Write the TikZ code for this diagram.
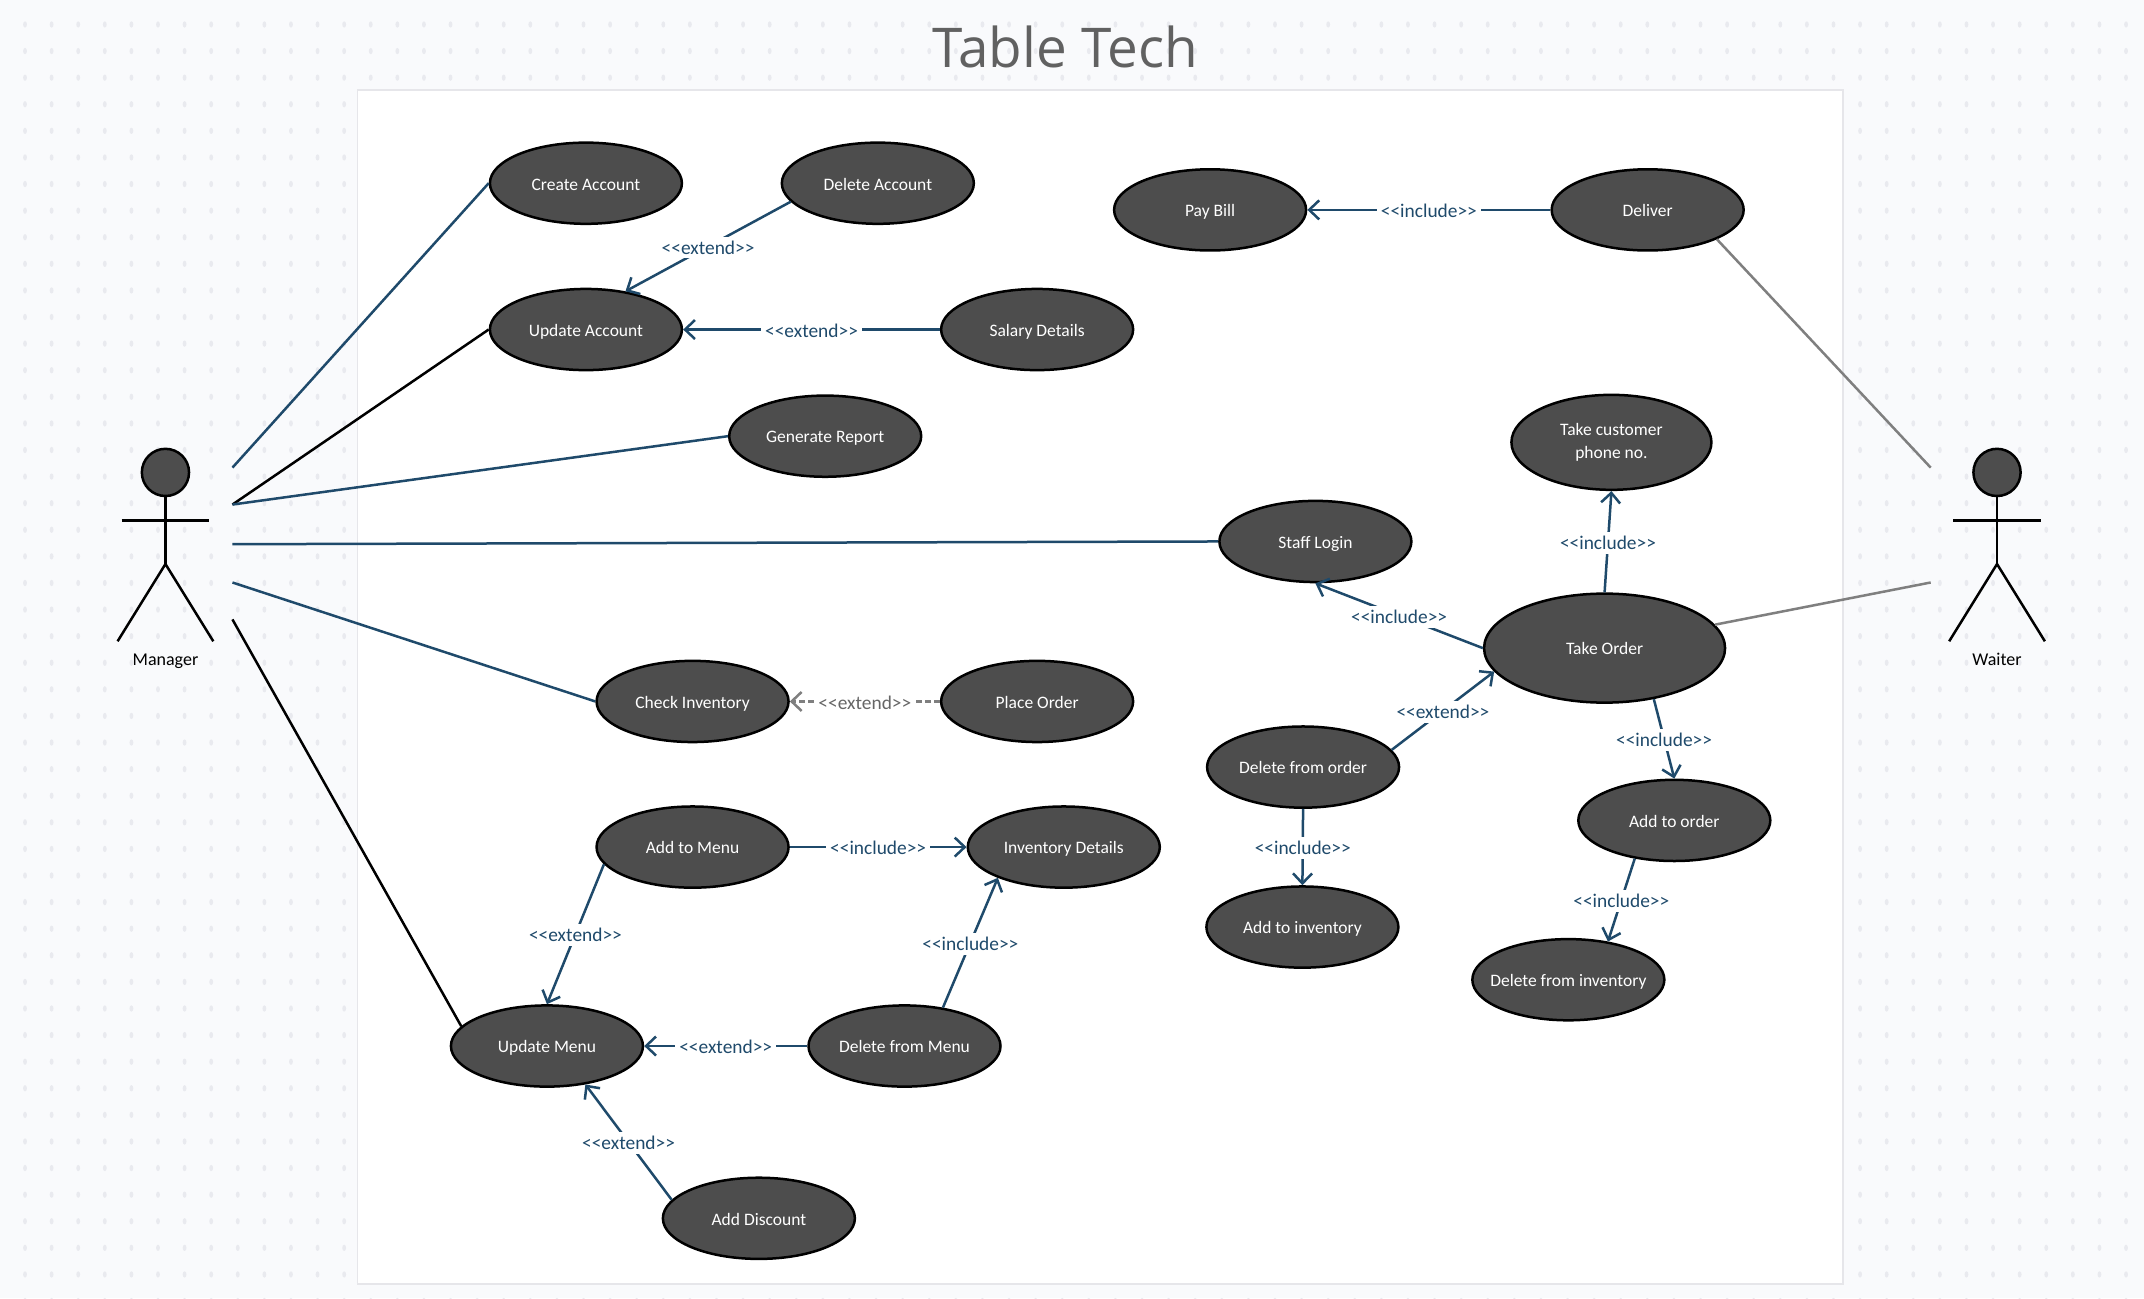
\documentclass[tikz,border=0pt]{standalone}
\usepackage{fontspec}
\setmainfont{Carlito}
\newfontfamily\titlefont{Open Sans}
\usetikzlibrary{arrows.meta,shapes.geometric}
\definecolor{pagebg}{HTML}{F9FAFC}
\definecolor{dotgray}{HTML}{E9EAEF}
\definecolor{framegray}{HTML}{E6E6EA}
\definecolor{usecase}{HTML}{4D4D4D}
\definecolor{navy}{HTML}{1F4A6B}
\definecolor{linegray}{HTML}{7F7F7F}
\tikzset{
  usecase/.style={ellipse,draw=black,fill=usecase,line width=1.25pt,text=white,inner sep=0pt,inner xsep=-8pt,
    minimum width=96pt,minimum height=40.6pt,text height=6.8pt,text depth=0pt,font=\fontsize{8.75}{10.5}\selectfont},
  assoc/.style={line width=1.25pt,navy},
  rel/.style={assoc,-{Straight Barb[length=5pt,width=9.5pt,line width=1.25pt]}},
  rellabel/.style={fill=white,inner sep=2pt,yshift=-0.5pt,text=navy,font=\fontsize{9.7}{11}\selectfont},
}
\begin{document}
\begin{tikzpicture}[x=0.68367pt,y=-0.68367pt]
\useasboundingbox (0,0) rectangle (1568,949.3);
\fill[pagebg] (0,0) rectangle (1568,949.3);
\foreach \i in {0,...,80}
  \foreach \j in {0,...,48}
    \fill[dotgray] (18.3+19.45*\i,17.9+19.45*\j) ellipse [x radius=1.4,y radius=2.3];
\draw[framegray,fill=white,line width=0.9pt] (261.5,65.8) rectangle (1348,939);
\node[font=\titlefont\fontsize{27.4}{30}\selectfont,text=black!62] (title) at (779,34.5) {Table Tech};

% use cases
\node[usecase] (createacc) at (428.5,134) {Create Account};
\node[usecase] (deleteacc) at (642,134) {Delete Account};
\node[usecase] (paybill) at (885,153.5) {Pay Bill};
\node[usecase] (deliver) at (1205,153.5) {Deliver};
\node[usecase] (updateacc) at (428.5,241) {Update Account};
\node[usecase] (salary) at (758.5,241) {Salary Details};
\node[usecase] (report) at (603.5,319) {Generate Report};
\node[usecase,text height=,text depth=,align=center,minimum width=100pt,minimum height=47.5pt] (phone) at (1178.5,323.5) {Take customer\\[0.6pt] phone no.};
\node[usecase] (stafflogin) at (962,396) {Staff Login};
\node[usecase,minimum width=120.5pt,minimum height=54.5pt] (takeorder) at (1173.5,474) {Take Order};
\node[usecase] (checkinv) at (506.5,513) {Check Inventory};
\node[usecase] (placeorder) at (758.5,513) {Place Order};
\node[usecase] (delorder) at (953,561) {Delete from order};
\node[usecase] (addorder) at (1224.5,600) {Add to order};
\node[usecase] (addmenu) at (506.5,619.5) {Add to Menu};
\node[usecase] (invdetails) at (778,619.5) {Inventory Details};
\node[usecase] (addinv) at (952.5,678) {Add to inventory};
\node[usecase] (delinv) at (1147,716.5) {Delete from inventory};
\node[usecase] (updatemenu) at (400,765) {Update Menu};
\node[usecase] (delmenu) at (661.5,765) {Delete from Menu};
\node[usecase] (discount) at (555,891) {Add Discount};

% actors
\foreach \xa/\actname in {121/Manager,1460.5/Waiter} {
  \node[circle,draw=black,fill=usecase,line width=1.25pt,inner sep=0pt,minimum size=23.6pt] (head\actname) at (\xa,345.5) {};
  \coordinate (hip\actname) at (\xa,412.5);
  \draw[line width=1.25pt] (head\actname) -- (hip\actname);
  \draw[line width=1.25pt] (\xa-32,380.5) -- (\xa+32,380.5);
  \draw[line width=1.25pt] (\xa-35,469) -- (hip\actname) -- (\xa+35,469);
  \node[anchor=base,font=\fontsize{9}{11}\selectfont] (name\actname) at (\xa,487) {\actname};
}

% free ends at the actors
\coordinate (man1) at (170,342);
\coordinate (man2) at (170,369);
\coordinate (man3) at (170,398);
\coordinate (man4) at (170,426);
\coordinate (man5) at (170,453);
\coordinate (wai1) at (1412,342);
\coordinate (wai2) at (1412,426);

\draw[assoc] (man1) -- (createacc.west);
\draw[line width=1.25pt] (man2) -- (updateacc.west);
\draw[assoc] (man2) -- (report.west);
\draw[assoc] (man3) -- (stafflogin.west);
\draw[assoc] (man4) -- (checkinv.west);
\draw[line width=1.25pt] (man5) -- (updatemenu.167.5);
\draw[line width=1.25pt,linegray] (wai1) -- (deliver.-23.7);
\draw[line width=1.25pt,linegray] (wai2) -- (takeorder.12.2);

% include and extend
\draw[rel] (deleteacc.192.7) -- node[rellabel] (l1) {<{}<extend>{}>} (updateacc.44.5);
\draw[rel] (salary.west) -- node[rellabel] (l2) {<{}<extend>{}>} (updateacc.east);
\draw[rel] (deliver.west) -- node[rellabel] (l3) {<{}<include>{}>} (paybill.east);
\draw[rel] (takeorder.north) -- node[rellabel] (l4) {<{}<include>{}>} (phone.south);
\draw[rel] (takeorder.west) -- node[rellabel] (l5) {<{}<include>{}>} (stafflogin.south);
\draw[rel] (delorder.11.5) -- node[rellabel] (l6) {<{}<extend>{}>} (takeorder.192.5);
\draw[rel] (takeorder.-46) -- node[rellabel] (l7) {<{}<include>{}>} (addorder.north);
\draw[rel] (delorder.south) -- node[rellabel] (l8) {<{}<include>{}>} (addinv.north);
\draw[rel] (addorder.224.5) -- node[rellabel] (l9) {<{}<include>{}>} (delinv.44.5);
\draw[rel,linegray,dash pattern=on 3pt off 1.5pt] (placeorder.west) -- node[rellabel,text=black!60] (l10) {<{}<extend>{}>} (checkinv.east);
\draw[rel] (addmenu.east) -- node[rellabel] (l11) {<{}<include>{}>} (invdetails.west);
\draw[rel] (addmenu.191.8) -- node[rellabel] (l12) {<{}<extend>{}>} (updatemenu.north);
\draw[rel] (delmenu.45.5) -- node[rellabel] (l13) {<{}<include>{}>} (invdetails.205);
\draw[rel] (delmenu.west) -- node[rellabel] (l14) {<{}<extend>{}>} (updatemenu.east);
\draw[rel] (discount.168.3) -- node[rellabel] (l15) {<{}<extend>{}>} (updatemenu.-45);
\end{tikzpicture}
\end{document}
